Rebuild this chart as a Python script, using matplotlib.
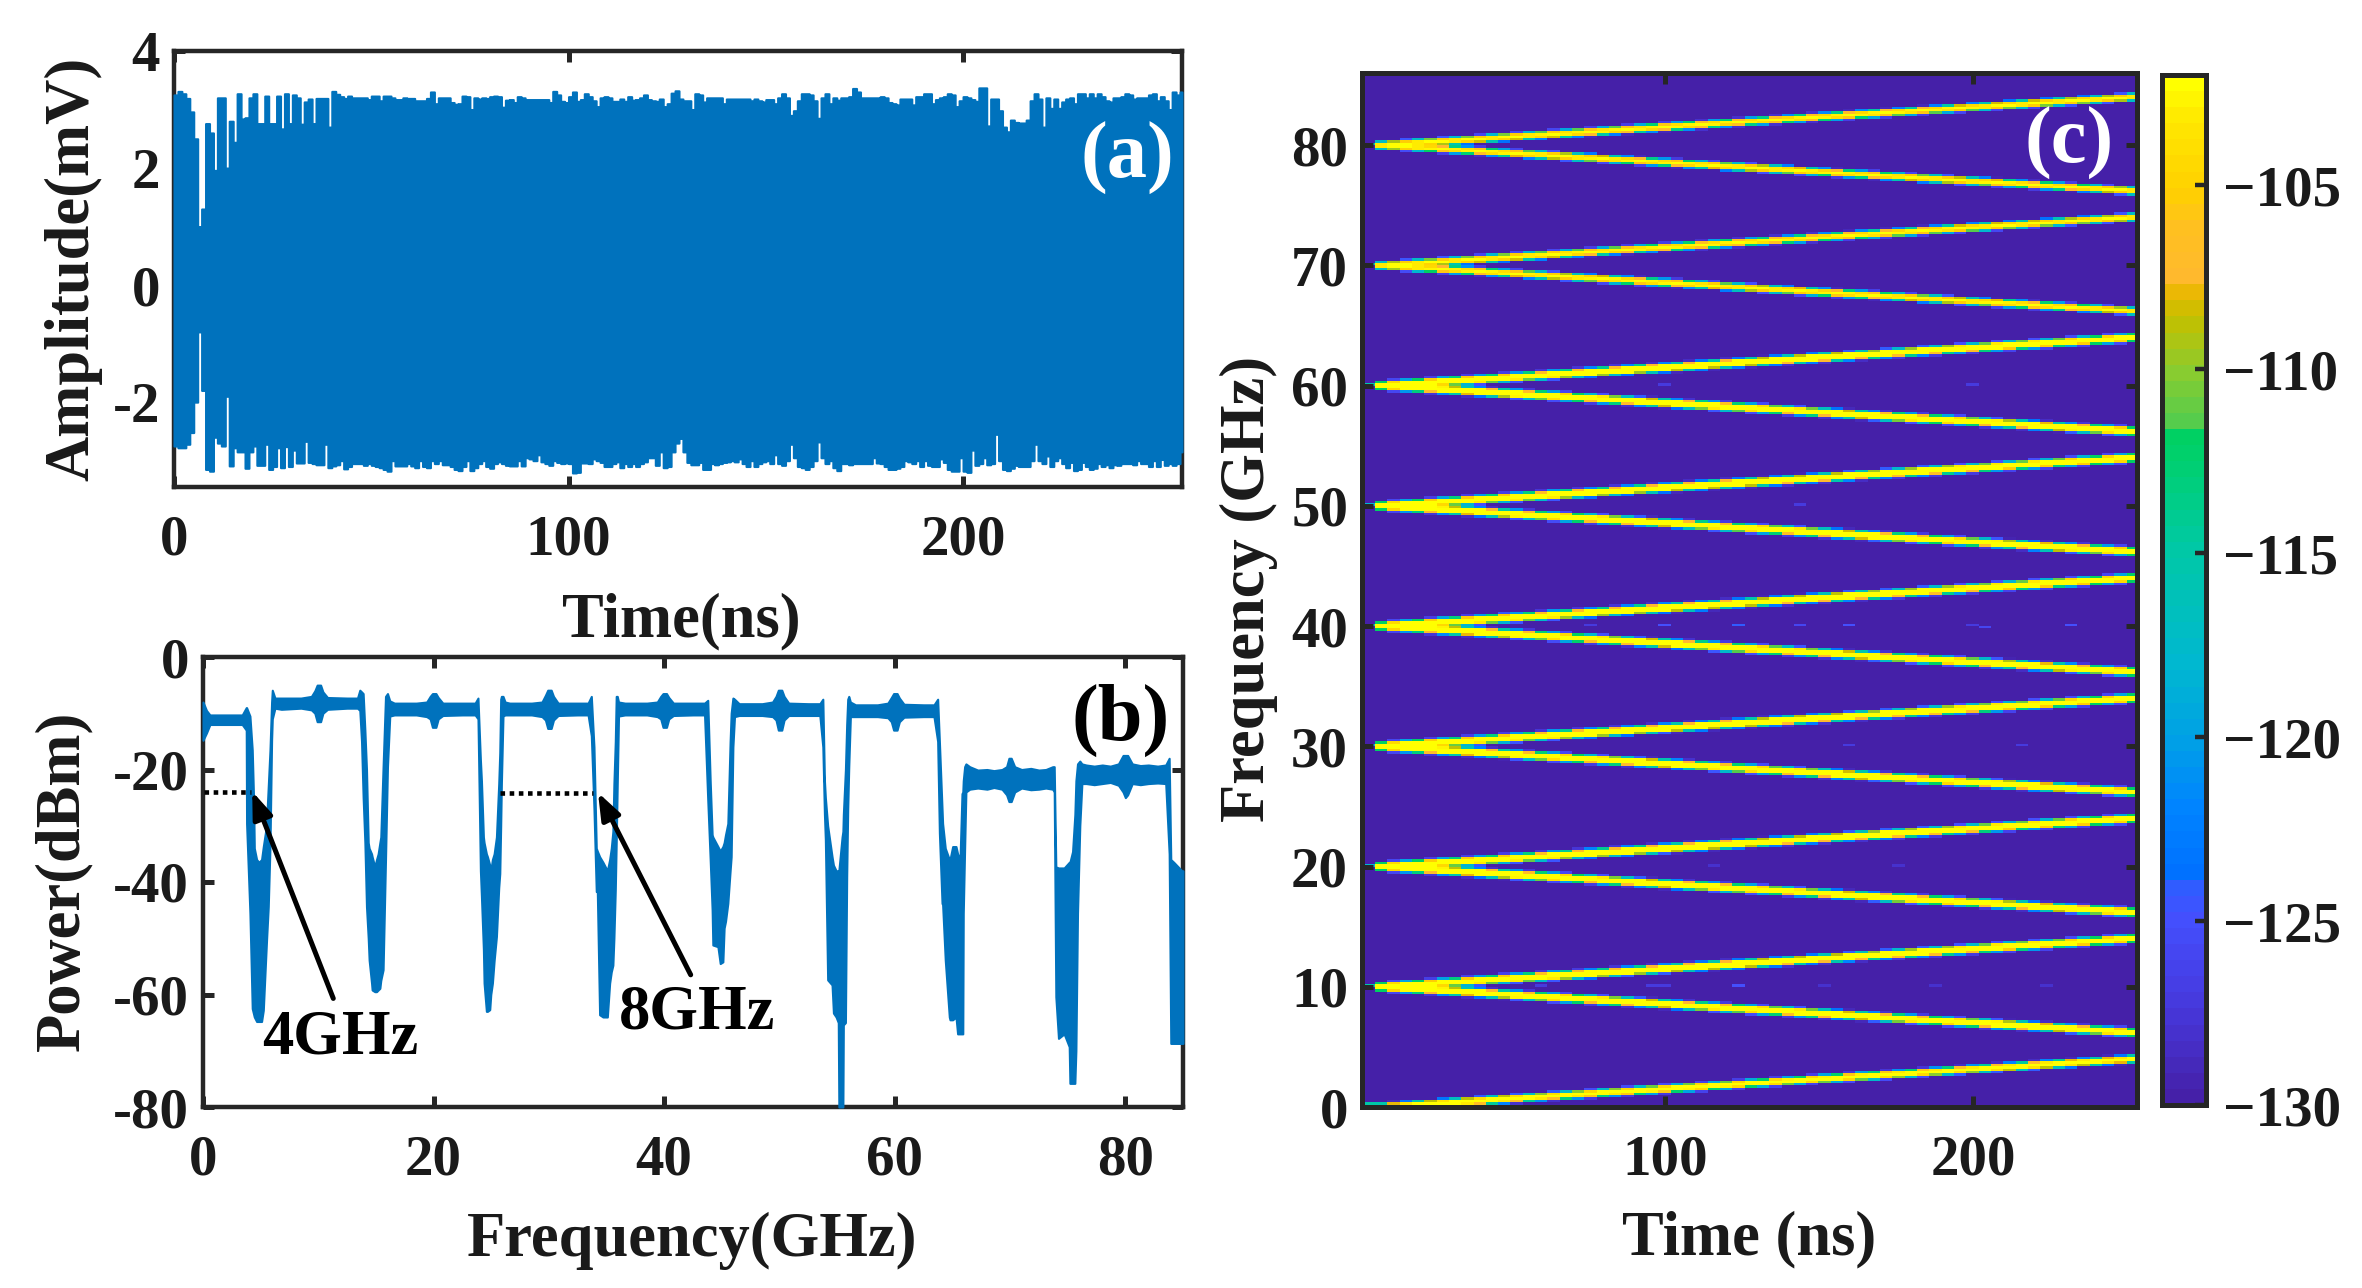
import numpy as np
import matplotlib
matplotlib.use("Agg")
import matplotlib.pyplot as plt
from matplotlib.colors import LinearSegmentedColormap

W, H = 2362, 1288
plt.rcParams['font.family'] = ['Liberation Serif', 'DejaVu Serif']
plt.rcParams['font.weight'] = 'bold'
plt.rcParams['axes.unicode_minus'] = False

# ---------- panel (a): envelope of the waveform, one value per ns ----------
env_upper = [
 3.25,3.31,3.27,3.19,2.96,2.50,1.00,1.30,2.76,2.60,1.96,3.20,3.20,2.00,2.80,2.44,3.27,2.84,2.86,3.20,
 3.27,2.76,2.76,3.23,2.76,2.76,3.23,2.67,3.27,2.76,3.25,3.20,2.75,3.13,3.18,2.76,3.19,3.19,3.19,2.70,
 3.31,3.26,3.22,3.19,3.23,3.20,3.20,3.20,3.20,3.17,3.23,3.23,3.15,3.23,3.23,3.20,3.17,3.17,3.20,3.19,
 3.19,3.15,3.15,3.15,3.19,3.30,3.10,3.20,3.20,3.20,3.12,3.09,3.10,3.23,3.22,3.00,3.20,3.18,3.20,3.19,
 3.22,3.23,3.22,3.04,3.16,3.17,3.12,3.22,3.20,3.17,3.17,3.17,3.17,3.17,3.17,3.12,3.31,3.25,3.14,3.12,
 3.22,3.30,3.14,3.17,3.27,3.22,3.15,3.05,3.20,3.22,3.20,3.14,3.14,3.18,3.14,3.22,3.16,3.17,3.20,3.25,
 3.17,3.15,3.14,3.18,3.05,3.10,3.28,3.32,
 3.18,3.15,3.15,3.00,3.27,3.25,3.13,3.20,3.20,3.20,3.20,3.10,3.18,3.18,3.18,3.18,3.18,3.18,3.15,3.18,
 3.15,3.13,3.17,3.17,3.10,3.20,3.27,3.20,2.90,2.98,3.15,3.27,3.27,3.25,3.15,2.85,3.20,3.27,3.10,3.20,
 3.16,3.20,3.20,3.22,3.36,3.30,3.20,3.20,3.20,3.20,3.20,3.22,3.20,3.12,3.10,3.08,3.18,3.18,3.18,3.08,
 3.22,3.22,3.27,3.27,3.10,3.17,3.20,3.22,3.27,3.25,3.05,3.15,3.22,3.20,3.17,3.14,3.37,3.37,2.72,3.18,
 3.18,2.98,2.70,2.62,2.82,2.78,2.77,2.77,2.82,3.15,3.27,3.18,2.70,3.20,3.02,3.18,3.02,3.13,3.18,3.20,
 3.10,3.27,3.27,3.20,3.27,3.20,3.27,3.22,3.15,3.13,3.20,3.20,3.22,3.27,3.25,3.18,3.20,3.20,3.20,3.25,
 3.27,3.15,3.22,3.15,3.00,3.30,3.25,3.30]
env_lower = [
 -2.75,-2.78,-2.78,-2.72,-2.52,-2.00,-0.80,-1.80,-3.15,-3.18,-2.60,-2.70,-2.75,-1.90,-3.09,-2.78,-2.85,-2.85,-3.13,-2.85,
 -2.75,-3.08,-3.08,-2.72,-3.15,-3.10,-2.78,-3.12,-2.76,-3.10,-2.82,-3.04,-3.04,-2.67,-3.03,-3.05,-3.07,-3.07,-2.72,-3.12,
 -3.09,-3.07,-3.00,-3.14,-3.10,-3.05,-3.05,-3.05,-3.08,-3.05,-3.08,-3.10,-3.12,-3.15,-3.18,-3.00,-3.09,-3.09,-3.09,-3.05,
 -3.09,-3.12,-3.00,-3.10,-3.12,-3.00,-3.05,-3.00,-3.07,-3.07,-3.10,-3.15,-3.17,-3.10,-3.00,-3.17,-3.12,-3.05,-3.00,-3.10,
 -3.13,-3.05,-3.02,-3.05,-3.08,-3.09,-3.09,-3.00,-3.09,-2.95,-2.97,-3.00,-2.90,-3.02,-3.05,-3.08,-3.00,-3.03,-3.05,-3.04,
 -3.05,-3.21,-3.20,-3.04,-3.04,-3.05,-2.97,-3.00,-3.03,-3.10,-3.10,-3.05,-3.02,-3.12,-3.05,-3.10,-3.05,-3.10,-3.05,-3.02,
 -2.95,-2.95,-3.08,-2.85,-3.12,-3.10,-2.85,-2.70,
 -2.62,-2.85,-3.03,-3.07,-3.07,-3.03,-3.15,-3.15,-3.05,-3.07,-3.05,-3.03,-3.02,-3.00,-3.02,-2.97,-3.05,-3.10,-3.00,-3.10,
 -3.05,-3.02,-3.00,-3.05,-2.90,-3.05,-3.08,-3.00,-2.72,-2.95,-3.10,-3.12,-3.15,-3.10,-3.00,-2.68,-2.95,-3.05,-3.00,-3.12,
 -3.17,-3.05,-3.05,-3.07,-3.05,-3.05,-3.05,-3.05,-3.05,-2.95,-3.04,-3.05,-3.10,-3.15,-3.15,-3.13,-3.10,-3.00,-3.02,-3.05,
 -3.00,-3.10,-3.00,-3.08,-3.10,-3.10,-2.97,-3.03,-3.15,-3.18,-3.18,-2.95,-3.18,-3.20,-2.82,-3.08,-3.05,-2.95,-3.07,-3.05,
 -2.55,-3.00,-3.15,-3.17,-3.13,-3.08,-3.10,-3.10,-3.10,-3.00,-2.72,-3.00,-3.05,-2.92,-3.10,-3.00,-2.95,-3.05,-3.12,-3.03,
 -3.17,-3.15,-3.03,-3.10,-3.15,-3.13,-3.05,-3.10,-3.07,-3.12,-3.07,-3.08,-3.05,-3.05,-3.05,-3.07,-3.00,-3.05,-3.05,-3.10,
 -3.00,-3.10,-2.98,-3.08,-3.05,-3.08,-3.05,-2.85]
env_time = list(range(len(env_upper)))

# ---------- panel (b): spectrum envelope ----------
spec_freq = [
 0.00,0.30,0.60,2.00,3.40,3.75,
 3.78,4.07,4.27,4.39,4.45,4.65,4.85,5.08,5.23,5.43,5.52,5.66,5.81,5.95,6.01,6.24,
 6.80,8.50,9.40,9.70,9.90,10.20,10.40,10.80,12.50,13.40,13.60,
 13.75,13.89,14.04,14.18,14.33,14.41,14.62,14.67,14.90,15.05,15.19,15.34,15.42,15.62,15.83,16.00,16.20,
 16.60,18.50,19.40,19.70,19.90,20.20,20.40,20.80,22.50,23.60,23.85,
 24.06,24.15,24.32,24.38,24.58,24.67,24.87,24.96,25.10,25.25,25.45,25.65,25.74,25.82,25.88,26.02,26.20,
 26.60,28.50,29.40,29.70,29.90,30.20,30.40,30.80,32.50,33.40,
 33.68,33.91,34.11,34.20,34.40,34.69,35.07,35.27,35.41,35.55,35.64,35.76,35.84,35.93,36.04,
 36.60,38.50,39.40,39.70,39.90,40.20,40.40,40.80,42.50,43.50,
 43.78,43.99,44.16,44.22,44.66,44.86,45.09,45.20,45.32,45.52,45.72,45.81,45.96,46.10,
 46.50,48.50,49.40,49.70,49.90,50.20,50.40,50.80,52.50,53.50,
 53.76,53.90,53.98,54.18,54.56,54.68,54.91,55.10,55.15,55.43,55.50,55.54,55.72,55.83,55.92,56.01,56.15,
 56.60,58.50,59.40,59.70,59.90,60.20,60.40,60.80,62.50,63.40,
 63.72,63.87,64.10,64.15,64.38,64.73,64.79,65.02,65.31,65.45,65.66,65.83,65.90,65.94,66.06,66.17,
 66.50,67.20,68.00,68.60,69.30,69.70,69.90,70.10,70.40,71.00,71.80,72.50,73.10,73.70,
 73.83,73.97,74.20,74.69,75.13,75.19,75.42,75.62,75.71,75.85,76.05,76.23,
 76.60,77.30,78.00,78.70,79.40,79.80,80.00,80.20,80.60,81.30,82.00,82.80,83.50,83.80,
 83.94,84.20,84.90,85.00]
spec_upper = [
 -8.0,-9.5,-10.3,-10.3,-10.3,-9.0,
 -9.0,-10.5,-16.5,-25.5,-34.0,-36.0,-36.5,-36.0,-33.7,-31.0,-29.0,-23.0,-16.5,-8.0,-5.9,-7.3,
 -7.3,-7.3,-7.0,-6.0,-5.0,-5.0,-6.2,-7.2,-7.3,-7.3,-5.9,
 -6.2,-6.5,-13.0,-20.0,-33.0,-34.0,-35.0,-35.5,-37.3,-36.0,-35.0,-33.0,-32.0,-19.5,-7.0,-6.5,-7.8,
 -8.2,-8.2,-8.0,-7.0,-6.5,-6.5,-7.2,-8.2,-8.2,-8.2,-7.3,
 -18.3,-22.0,-32.0,-33.0,-35.0,-35.5,-37.0,-38.0,-36.0,-35.0,-32.0,-22.5,-17.0,-7.5,-7.0,-7.0,-8.0,
 -8.2,-8.2,-8.0,-6.8,-5.9,-5.9,-7.0,-8.2,-8.2,-8.2,
 -7.0,-16.0,-34.0,-34.5,-35.5,-36.5,-38.0,-36.0,-34.0,-31.0,-22.5,-15.0,-7.0,-7.0,-8.0,
 -8.2,-8.2,-8.0,-7.0,-6.5,-6.5,-7.2,-8.2,-8.2,-8.2,
 -7.7,-22.0,-31.6,-32.0,-33.7,-34.5,-33.7,-33.0,-31.6,-29.6,-15.0,-10.0,-7.3,-7.5,
 -8.3,-8.3,-8.0,-7.0,-5.9,-5.9,-7.0,-8.2,-8.3,-8.3,
 -7.5,-22.0,-25.0,-30.0,-35.5,-37.0,-38.0,-38.0,-38.0,-32.0,-31.0,-28.0,-20.0,-12.0,-7.5,-7.0,-8.0,
 -8.5,-8.5,-8.2,-7.2,-6.5,-6.5,-7.3,-8.4,-8.5,-8.5,
 -7.5,-15.0,-27.0,-29.6,-34.0,-36.0,-36.0,-33.7,-33.7,-35.0,-36.0,-24.3,-24.0,-22.0,-19.5,-19.0,
 -19.5,-20.1,-20.0,-20.2,-20.0,-19.5,-18.0,-18.0,-19.5,-20.0,-19.8,-20.1,-20.0,-19.5,
 -19.5,-37.3,-37.5,-37.5,-36.5,-36.5,-34.6,-28.0,-22.0,-19.0,-18.5,-19.0,
 -19.2,-19.4,-19.2,-19.4,-19.0,-17.5,-17.5,-17.5,-19.0,-19.3,-19.2,-19.4,-19.2,-18.0,
 -36.0,-36.5,-38.0,-38.0]
spec_lower = [
 -14.8,-13.5,-12.0,-12.0,-12.0,-13.0,
 -29.6,-45.6,-62.5,-63.5,-64.0,-64.8,-64.8,-64.8,-62.8,-53.9,-50.0,-44.4,-33.7,-14.8,-11.0,-9.1,
 -9.3,-9.1,-9.4,-10.0,-11.5,-11.5,-10.0,-9.3,-9.1,-9.1,-9.5,
 -15.0,-25.0,-33.0,-44.4,-50.0,-53.9,-58.0,-59.2,-59.5,-59.5,-59.2,-58.9,-57.5,-55.6,-36.0,-19.5,-10.5,
 -10.3,-10.3,-10.6,-11.0,-12.5,-12.5,-11.0,-10.4,-10.3,-10.3,-11.0,
 -38.0,-42.6,-52.0,-58.0,-63.0,-63.0,-62.7,-60.0,-58.0,-54.0,-49.7,-41.0,-38.5,-30.0,-22.5,-10.5,-10.3,
 -10.3,-10.3,-10.6,-11.2,-12.7,-12.7,-11.2,-10.4,-10.3,-10.3,
 -14.0,-27.0,-41.7,-41.7,-63.6,-64.0,-64.0,-58.0,-56.0,-54.8,-50.0,-41.4,-33.0,-22.5,-10.5,
 -10.3,-10.3,-10.6,-11.0,-12.5,-12.5,-11.0,-10.4,-10.3,-10.3,
 -25.4,-36.0,-45.0,-51.2,-51.5,-54.5,-54.2,-48.2,-47.0,-43.8,-38.0,-35.5,-16.0,-10.6,
 -10.4,-10.4,-10.6,-11.2,-13.0,-13.0,-11.2,-10.4,-10.4,-10.4,
 -16.0,-28.0,-32.5,-57.4,-58.3,-63.3,-64.0,-65.0,-80.0,-80.0,-80.0,-65.4,-65.0,-39.0,-27.0,-19.5,-10.6,
 -10.6,-10.6,-10.8,-11.5,-13.0,-13.0,-11.5,-10.7,-10.6,-10.6,
 -15.0,-31.3,-43.8,-44.0,-53.9,-64.0,-64.5,-64.5,-64.0,-67.0,-67.0,-67.0,-67.0,-45.6,-34.0,-24.0,
 -23.5,-23.3,-23.5,-23.2,-23.5,-24.5,-25.7,-25.7,-24.0,-23.3,-23.6,-23.5,-23.3,-23.5,
 -24.0,-60.4,-67.8,-67.0,-69.3,-75.8,-75.8,-75.8,-70.0,-45.6,-30.0,-22.5,
 -22.5,-22.7,-22.5,-22.3,-22.8,-24.0,-25.0,-24.5,-22.5,-22.7,-22.5,-22.4,-22.5,-35.0,
 -68.7,-68.7,-68.7,-68.7]

# ---------- panel (c): chirped carriers ----------
carrier_freq = [0, 10, 20, 30, 40, 50, 60, 70, 80]
carrier_peak = [-100.5, -97, -97, -97, -97, -97, -97, -102, -102]
chirp_offset = [
 0.00,0.07,0.13,0.20,0.26,0.33,0.39,0.46,0.52,0.59,0.66,0.72,0.79,0.85,0.92,0.98,
 1.05,1.11,1.18,1.25,1.31,1.38,1.44,1.51,1.57,1.64,1.70,1.77,1.84,1.90,1.97,2.03,
 2.10,2.16,2.23,2.30,2.36,2.43,2.49,2.56,2.62,2.69,2.75,2.82,2.89,2.95,3.02,3.08,
 3.15,3.21,3.28,3.34,3.41,3.48,3.54,3.61,3.67,3.74,3.80,3.87,3.93,4.00]
sideband_bins = [0.0, 0.5, 1.0, 1.5, 2.0, 2.4]
sideband_drop = [0.0, 1.0, 4.0, 15.0, 26.0, 33.0]
faint_freq = [40, 40, 40, 40, 40, 40, 40, 40, 30, 30, 60, 60, 50, 10, 41, 39.9,
              10, 10, 10, 10, 10, 10, 20, 20]
faint_time = [35, 75, 99, 123, 143, 159, 199, 231, 159, 215, 99, 199, 143, 99, 47, 203,
              59, 95, 123, 151, 187, 223, 115, 175]
faint_level = [-124, -127, -125, -124, -126, -125, -127, -125, -127, -127, -127, -127, -127, -127, -124, -126,
               -127, -127, -125, -128, -128, -128, -128, -128]
lead_freq = [0.2, 10, 20, 30, 40, 50, 60, 70, 80]
lead_level = [-115, -115, -118, -118, -115, -118, -115, -115, -115]
cbar_ticks = [-130, -125, -120, -115, -110, -105]
cbar_labels = ['\u2212130', '\u2212125', '\u2212120', '\u2212115', '\u2212110', '\u2212105']

stops = [(-130, '#4520A8'), (-127.5, '#4638DC'), (-125, '#4450FF'), (-124, '#2A60FF'),
         (-123.9, '#0070FF'), (-122, '#0084FF'), (-120, '#00A2E4'), (-118, '#00B8D0'),
         (-115, '#00C8A8'), (-112.5, '#00D070'), (-111.6, '#00D060'), (-111.5, '#50CC50'),
         (-110, '#88CC30'), (-108.5, '#C4C000'), (-107.8, '#E8B800'), (-107.6, '#FFB830'),
         (-106, '#FFC020'), (-105, '#FFD000'), (-103, '#FFE800'), (-102, '#FFFF00')]
cmap = LinearSegmentedColormap.from_list(
    'spec', [((v + 130) / 28.0, c) for v, c in stops], N=64)

BLUE = '#0072BD'
DARK = '#262626'


def axes_px(l, t, r, b):
    return fig.add_axes([l / W, 1 - b / H, (r - l) / W, (b - t) / H])


def style(ax, lw=3.2):
    for s in ax.spines.values():
        s.set_linewidth(lw)
        s.set_color(DARK)
    ax.tick_params(direction='in', top=True, right=True, length=8, width=3.6,
                   color=DARK, labelsize=41, labelcolor='#1a1a1a')


def xlab(ax, txt, x, y):
    ax.set_xlabel(txt, fontsize=45, fontweight='bold', color='#1a1a1a', ha='center', va='center')
    ax.xaxis.set_label_coords(x / W, 1 - y / H, transform=fig.transFigure)


def ylab(ax, txt, x, y):
    ax.set_ylabel(txt, fontsize=45, fontweight='bold', color='#1a1a1a', ha='center', va='center')
    ax.yaxis.set_label_coords(x / W, 1 - y / H, transform=fig.transFigure)


def tag(txt, x, y, color):
    fig.text(x / W, 1 - y / H, txt, fontsize=58, fontweight='bold', color=color,
             ha='center', va='center', zorder=20)


fig = plt.figure(figsize=(W / 100, H / 100), dpi=100, facecolor='white')

# panel (a)
axa = axes_px(174, 51, 1182, 487)
style(axa)
t_edges = env_time + [255.5]
axa.fill_between(t_edges, env_lower + env_lower[-1:], env_upper + env_upper[-1:], step='post',
                 color=BLUE, lw=1.5, clip_on=False, zorder=3)
axa.set_xlim(0, 255.5)
axa.set_ylim(-3.45, 4)
axa.set_xticks([0, 100, 200])
axa.set_yticks([-2, 0, 2, 4])
axa.tick_params(axis='x', pad=20)
axa.tick_params(axis='y', pad=10)
xlab(axa, 'Time(ns)', 681, 621)
ylab(axa, 'Amplitude(mV)', 73, 269)

# panel (b)
axb = axes_px(203, 657, 1183, 1107)
style(axb)
axb.fill_between(spec_freq, spec_lower, spec_upper, color=BLUE, lw=1.5, clip_on=False, zorder=3)
axb.set_xlim(0, 85)
axb.set_ylim(-80, 0)
axb.set_xticks([0, 20, 40, 60, 80])
axb.set_yticks([-80, -60, -40, -20, 0])
axb.tick_params(axis='x', pad=20)
axb.tick_params(axis='y', pad=10)
xlab(axb, 'Frequency(GHz)', 692, 1241)
ylab(axb, 'Power(dBm)', 63, 881)
axb.plot([0.1, 4.2], [-24, -24], color='black', lw=3.3, ls=(0, (1, 1)), zorder=4)
axb.plot([25.75, 33.8], [-24.2, -24.2], color='black', lw=3.3, ls=(0, (1, 1)), zorder=4)
axb.annotate('', xy=(4.27, -23.9), xytext=(11.3, -60.7), zorder=5,
             arrowprops=dict(arrowstyle='-|>,head_length=0.8,head_width=0.3', lw=3.6, color='black',
                             mutation_scale=20, shrinkA=0, shrinkB=0))
axb.annotate('', xy=(34.26, -24.1), xytext=(42.3, -56.5), zorder=5,
             arrowprops=dict(arrowstyle='-|>,head_length=0.8,head_width=0.3', lw=3.6, color='black',
                             mutation_scale=20, shrinkA=0, shrinkB=0))
axb.text(5.1, -62.6, '4GHz', fontsize=45, fontweight='bold', color='black', ha='left', va='top', zorder=6)
axb.text(36.1, -58.2, '8GHz', fontsize=45, fontweight='bold', color='black', ha='left', va='top', zorder=6)

# panel (c)
axc = axes_px(1362, 73, 2137, 1107)
style(axc, lw=3.6)
cell_dt, cell_df = 4.0, 0.2
time_edges = 1.8 + cell_dt * np.arange(len(chirp_offset) + 2)
freq_edges = cell_df * np.arange(431)
freq_centers = freq_edges[:-1] + cell_df / 2
time_centers = time_edges[:-1] + cell_dt / 2
Z = np.full((len(freq_centers), len(time_centers)), -130.0)
offs = np.array(chirp_offset)
for f0, peak in zip(carrier_freq, carrier_peak):
    ridges = [f0 + offs] if f0 == 0 else [f0 + offs, f0 - 0.95 * offs]
    for ridge in ridges:
        for j, fr in enumerate(ridge):
            d = np.abs(freq_centers - fr) / cell_df
            vals = peak - np.interp(d, sideband_bins, sideband_drop, right=200)
            Z[:, j + 1] = np.maximum(Z[:, j + 1], vals)
for f, lv in zip(lead_freq, lead_level):
    Z[int(f / cell_df), 0] = lv
for f, t, lv in zip(faint_freq, faint_time, faint_level):
    i = int(f / cell_df)
    j = int((t - 1.8) / cell_dt)
    Z[i, j] = max(Z[i, j], lv)
axc.set_facecolor(cmap(0.0))
mesh = axc.pcolormesh(time_edges, freq_edges, Z, cmap=cmap, vmin=-130, vmax=-102, shading='flat', zorder=1)
axc.set_axisbelow(False)
axc.set_xlim(1.6, 253.2)
axc.set_ylim(0, 86)
axc.set_xticks([100, 200])
axc.set_yticks(carrier_freq)
axc.tick_params(axis='x', pad=20)
axc.tick_params(axis='y', pad=10)
xlab(axc, 'Time (ns)', 1749, 1239)
ylab(axc, 'Frequency (GHz)', 1249, 589)

# colour bar
cax = axes_px(2162, 75, 2206, 1105)
cb = fig.colorbar(mesh, cax=cax)
cb.set_ticks(cbar_ticks)
cb.set_ticklabels(cbar_labels)
cb.outline.set_linewidth(3.6)
cb.outline.set_edgecolor(DARK)
cax.tick_params(direction='in', length=8, width=3.2, color=DARK, labelsize=41,
                labelcolor='#1a1a1a', pad=12)

tag('(a)', 1127, 158, 'white')
tag('(b)', 1121, 720, 'black')
tag('(c)', 2069, 143, 'white')

fig.savefig('out.png', dpi=100)
